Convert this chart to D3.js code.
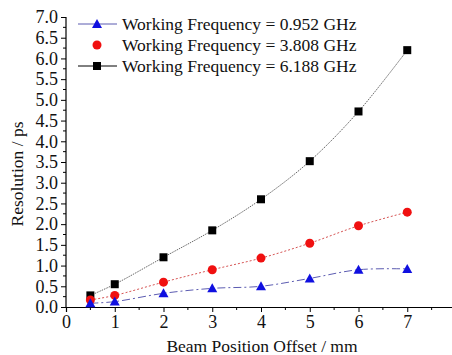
<!DOCTYPE html>
<html>
<head>
<meta charset="utf-8">
<script src="https://cdn.jsdelivr.net/npm/d3@7"></script>
<style>
  body { margin: 0; background: #fff; }
</style>
</head>
<body>
<svg id="chart" width="452" height="355"></svg>
<script>
var offsets = [0.5, 1, 2, 3, 4, 5, 6, 7]
var res0952 = [0.09, 0.13, 0.33, 0.45, 0.50, 0.69, 0.90, 0.92]
var res3808 = [0.17, 0.28, 0.60, 0.90, 1.18, 1.54, 1.96, 2.29]
var res6188 = [0.28, 0.55, 1.20, 1.85, 2.60, 3.52, 4.72, 6.20]
var xTicks = [0, 1, 2, 3, 4, 5, 6, 7]
var yTicks = [0, 0.5, 1, 1.5, 2, 2.5, 3, 3.5, 4, 4.5, 5, 5.5, 6, 6.5, 7]
var labels = ["Working Frequency = 0.952 GHz", "Working Frequency = 3.808 GHz", "Working Frequency = 6.188 GHz"]

var series = [
  {name: labels[0], values: res0952, color: "#1010e0", line: "#4a4aa8", dash: "8,3,2,3", shape: "triangle", legendLine: true},
  {name: labels[1], values: res3808, color: "#f01010", line: "#d04040", dash: "2,2", shape: "circle", legendLine: false},
  {name: labels[2], values: res6188, color: "#000", line: "#555", dash: "1.5,1", shape: "square", legendLine: true}
]

var svg = d3.select("#chart")
var x = d3.scaleLinear().domain([0, 8]).range([66, 456])
var y = d3.scaleLinear().domain([0, 7]).range([307, 17])

// axes
var xAxis = svg.append("g").attr("transform", "translate(0,307)")
xAxis.call(d3.axisBottom(x).tickValues(xTicks).tickFormat(d3.format("d")).tickSize(5).tickPadding(3))
xAxis.selectAll("line.minor").data(d3.range(0.5, 8.5, 1)).enter().append("line")
  .attr("class", "minor").attr("x1", d => x(d)).attr("x2", d => x(d))
  .attr("y1", 0).attr("y2", 3).attr("stroke", "#000")

var yAxis = svg.append("g").attr("transform", "translate(66,0)")
yAxis.call(d3.axisLeft(y).tickValues(yTicks).tickFormat(d3.format(".1f")).tickSize(5).tickPadding(3))
yAxis.selectAll("line.minor").data(d3.range(0.25, 7, 0.5)).enter().append("line")
  .attr("class", "minor").attr("y1", d => y(d)).attr("y2", d => y(d))
  .attr("x1", 0).attr("x2", -3).attr("stroke", "#000")

svg.selectAll(".domain").attr("stroke", "#000").attr("stroke-width", 1.2)
svg.selectAll(".tick line").attr("stroke", "#000")
yAxis.select(".domain").attr("d", "M0," + y(7) + "V" + y(0))

svg.append("text").attr("class", "title").attr("x", 262).attr("y", 352).attr("text-anchor", "middle")
  .text("Beam Position Offset / mm")
svg.append("text").attr("class", "title").attr("transform", "translate(23,174) rotate(-90)").attr("text-anchor", "middle")
  .text("Resolution / ps")

// series
var line = d3.line().curve(d3.curveCatmullRom)
  .x((d, i) => x(offsets[i])).y(d => y(d))

function marker(sel, shape, color) {
  if (shape == "circle") sel.append("circle").attr("r", 4.5).attr("fill", color)
  else if (shape == "square") sel.append("rect").attr("x", -4).attr("y", -4).attr("width", 8).attr("height", 8).attr("fill", color)
  else sel.append("path").attr("d", "M0,-5L5,4L-5,4Z").attr("fill", color)
}

series.forEach(s => {
  svg.append("path").attr("d", line(s.values)).attr("fill", "none")
    .attr("stroke", s.line).attr("stroke-width", 0.9).attr("stroke-dasharray", s.dash)
})
series.slice().reverse().forEach(s => {
  svg.append("g").selectAll("g").data(s.values).enter().append("g")
    .attr("transform", (d, i) => "translate(" + x(offsets[i]) + "," + y(d) + ")")
    .each(function() { marker(d3.select(this), s.shape, s.color) })
})

// legend
var legend = svg.append("g").selectAll("g").data(series).enter().append("g")
  .attr("transform", (d, i) => "translate(0," + (24 + i * 21) + ")")
legend.filter(d => d.legendLine).append("line")
  .attr("x1", 78).attr("x2", 117).attr("stroke", d => d.color == "#000" ? "#000" : "#5a5ab0").attr("stroke-width", 1)
legend.each(function(d) {
  marker(d3.select(this).append("g").attr("transform", "translate(97,0)"), d.shape, d.color)
})
legend.append("text").attr("class", "title").attr("x", 122).attr("y", 6).text(d => d.name)

svg.selectAll("g").attr("font-family", null).attr("font-size", null)
svg.selectAll("text")
  .style("font-family", "'Liberation Serif'")
  .style("font-size", "17.5px")
  .style("fill", "#111")
svg.selectAll(".tick text").style("font-size", "18px")
</script>
</body>
</html>
